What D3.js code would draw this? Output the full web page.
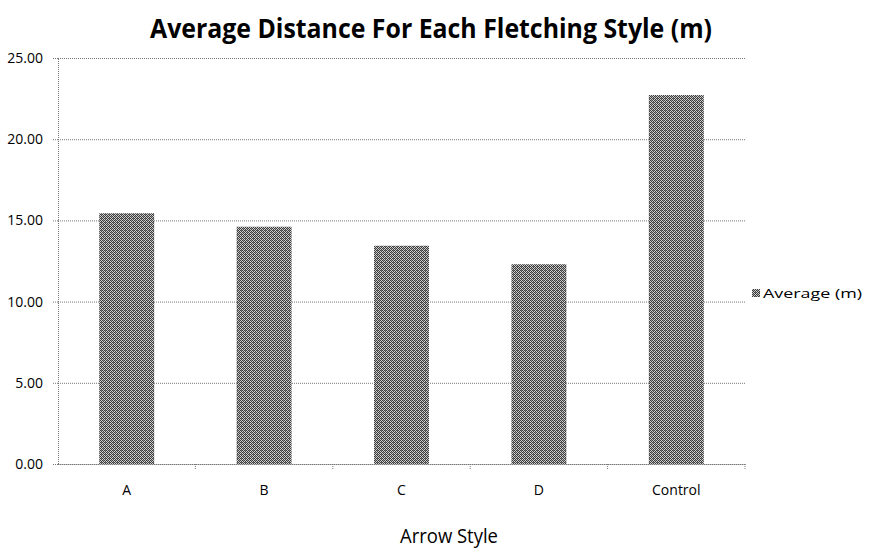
<!DOCTYPE html>
<html lang="en">
<head>
  <meta charset="UTF-8">
  <title>Average Distance For Each Fletching Style</title>
  <script src="https://d3js.org/d3.v7.min.js"></script>
  <style>
    body { margin: 0; background: #fff; }
    text { font-family: "Open Sans", "DejaVu Sans", sans-serif; fill: #000; }
    .gridlines line { stroke: #777; stroke-dasharray: 1 1; }
    .gridlines .domain { stroke: none; }
    .axis .domain { stroke: #777; stroke-dasharray: 1 1; }
    .axis line { stroke: #777; stroke-dasharray: 1 1; }
  </style>
</head>
<body>
  <svg id="chart" width="872" height="554"></svg>

  <script>
    // values
    const styles = ['A', 'B', 'C', 'D', 'Control'];
    const averages = [15.44, 14.61, 13.44, 12.30, 22.72];
    const yTicks = [0, 5, 10, 15, 20, 25];

    const data = styles.map((s, i) => ({ style: s, avg: averages[i] }));

    const svg = d3.select('#chart');
    const margins = { top: 58, right: 127, bottom: 90, left: 58 };
    const chartWidth = 872 - margins.left - margins.right;
    const chartHeight = 554 - margins.top - margins.bottom;

    // dithered fill like the scanned bars
    const defs = svg.append('defs');
    const pat = defs.append('pattern')
      .attr('id', 'dither')
      .attr('width', 4).attr('height', 4)
      .attr('patternUnits', 'userSpaceOnUse');
    pat.append('rect').attr('width', 4).attr('height', 4).attr('fill', '#d0d0d0');
    [[0, 0], [2, 0], [1, 1], [3, 1], [0, 2], [2, 2], [1, 3], [3, 3]].forEach(p => {
      pat.append('rect').attr('x', p[0]).attr('y', p[1]).attr('width', 1).attr('height', 1).attr('fill', '#3c3c3c');
    });
    pat.append('rect').attr('x', 3).attr('y', 0).attr('width', 1).attr('height', 1).attr('fill', '#777');
    pat.append('rect').attr('x', 1).attr('y', 2).attr('width', 1).attr('height', 1).attr('fill', '#999');

    const xScale = d3.scaleBand()
      .domain(styles)
      .range([0, chartWidth])
      .paddingInner(0.6)
      .paddingOuter(0.3);

    const yScale = d3.scaleLinear()
      .domain([0, 25])
      .range([chartHeight, 0]);

    const chartArea = svg.append('g')
      .attr('transform', `translate(${margins.left},${margins.top})`);

    // horizontal gridlines
    chartArea.append('g')
      .attr('class', 'gridlines')
      .call(d3.axisLeft(yScale).tickValues(yTicks).tickSize(-chartWidth).tickFormat(''));

    // bars
    chartArea.selectAll('rect.bar').data(data)
      .join('rect').attr('class', 'bar')
      .attr('fill', 'url(#dither)')
      .attr('x', d => xScale(d.style))
      .attr('y', d => yScale(d.avg))
      .attr('width', xScale.bandwidth())
      .attr('height', d => yScale(0) - yScale(d.avg));

    // y axis
    const leftAxis = chartArea.append('g')
      .attr('class', 'axis')
      .call(d3.axisLeft(yScale).tickValues(yTicks).tickSize(5).tickPadding(10).tickFormat(d3.format('.2f')));
    leftAxis.selectAll('text').attr('font-size', '14px');

    // x axis with ticks between categories
    const bottomAxis = chartArea.append('g')
      .attr('class', 'axis')
      .attr('transform', `translate(0,${chartHeight})`)
      .call(d3.axisBottom(xScale).tickSize(0).tickPadding(21));
    bottomAxis.selectAll('text').attr('font-size', '14px');
    bottomAxis.selectAll('line.sep').data(styles)
      .join('line').attr('class', 'sep')
      .attr('x1', d => xScale(d) + xScale.bandwidth() / 2 + xScale.step() / 2)
      .attr('x2', d => xScale(d) + xScale.bandwidth() / 2 + xScale.step() / 2)
      .attr('y1', 0).attr('y2', 5)
      .attr('stroke', '#777').attr('stroke-dasharray', '1 1');

    // title
    svg.append('text')
      .attr('x', 431)
      .attr('y', 38)
      .attr('text-anchor', 'middle')
      .attr('font-size', '26px')
      .attr('font-weight', 'bold')
      .attr('textLength', 562)
      .attr('lengthAdjust', 'spacingAndGlyphs')
      .text('Average Distance For Each Fletching Style (m)');

    // x axis title
    svg.append('text')
      .attr('x', 449)
      .attr('y', 543)
      .attr('text-anchor', 'middle')
      .attr('font-size', '20px')
      .attr('textLength', 98)
      .attr('lengthAdjust', 'spacingAndGlyphs')
      .text('Arrow Style');

    // legend
    svg.append('rect')
      .attr('x', 752).attr('y', 289)
      .attr('width', 8).attr('height', 8)
      .attr('fill', 'url(#dither)');
    svg.append('text')
      .attr('x', 763).attr('y', 298)
      .attr('font-size', '13px')
      .attr('textLength', 99)
      .attr('lengthAdjust', 'spacingAndGlyphs')
      .text('Average (m)');
  </script>
</body>
</html>
